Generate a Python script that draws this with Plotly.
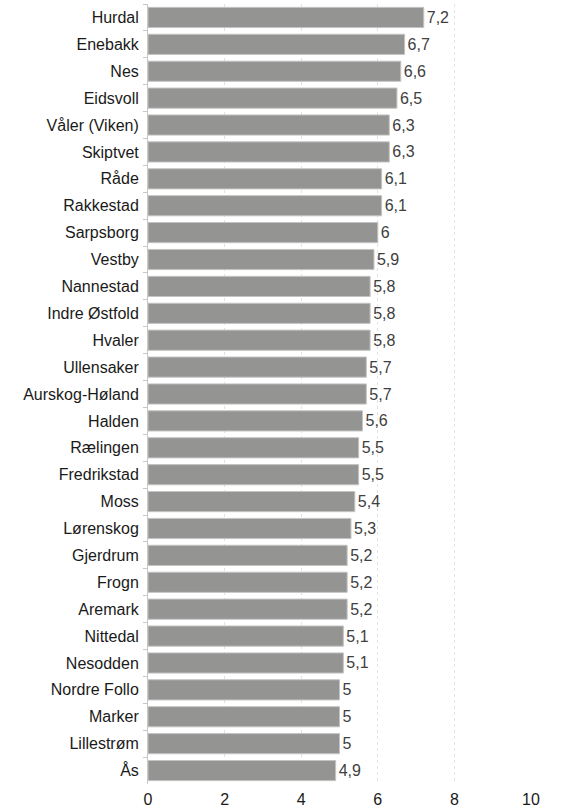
import plotly.graph_objects as go

categories = ["Hurdal", "Enebakk", "Nes", "Eidsvoll", "Våler (Viken)", "Skiptvet", "Råde",
              "Rakkestad", "Sarpsborg", "Vestby", "Nannestad", "Indre Østfold", "Hvaler",
              "Ullensaker", "Aurskog-Høland", "Halden", "Rælingen", "Fredrikstad", "Moss",
              "Lørenskog", "Gjerdrum", "Frogn", "Aremark", "Nittedal", "Nesodden",
              "Nordre Follo", "Marker", "Lillestrøm", "Ås"]
values = [7.2, 6.7, 6.6, 6.5, 6.3, 6.3, 6.1, 6.1, 6.0, 5.9, 5.8, 5.8, 5.8, 5.7, 5.7, 5.6,
          5.5, 5.5, 5.4, 5.3, 5.2, 5.2, 5.2, 5.1, 5.1, 5.0, 5.0, 5.0, 4.9]
x_ticks = [0, 2, 4, 6, 8, 10]


def fmt(v):
    s = ("%g" % v)
    return s.replace(".", ",")


labels = [fmt(v) for v in values]
FONT = "Liberation Sans"

fig = go.Figure(go.Bar(
    y=categories,
    x=values,
    orientation="h",
    marker=dict(color="#949592", line=dict(color="#c4c4c4", width=1)),
    text=labels,
    textposition="outside",
    textfont=dict(family=FONT, size=16, color="#404040"),
    cliponaxis=False,
    constraintext="none",
))

fig.update_layout(
    width=562, height=811,
    margin=dict(l=148, r=31, t=4, b=27, autoexpand=False),
    paper_bgcolor="white", plot_bgcolor="white",
    bargap=0.25,
    showlegend=False,
    font=dict(family=FONT, size=16, color="#1a1a1a"),
    xaxis=dict(
        range=[0, 10],
        tickvals=x_ticks,
        ticktext=[str(t) for t in x_ticks],
        showgrid=True, gridcolor="#e2e2e2", griddash="dot", gridwidth=1,
        zeroline=False, showline=False, ticks="",
        tickfont=dict(family=FONT, size=16, color="#1a1a1a"),
        ticklabelstandoff=4,
        fixedrange=True,
    ),
    yaxis=dict(
        autorange="reversed",
        showline=True, linecolor="#c8c8c8", linewidth=1,
        ticks="outside", ticklen=4, tickcolor="#c8c8c8", tickson="boundaries",
        showgrid=False,
        tickfont=dict(family=FONT, size=16, color="#1a1a1a"),
        ticklabelstandoff=5,
        fixedrange=True,
    ),
)

fig.write_html("out.html", config={"displayModeBar": False},
               post_script="document.body.style.margin='0';")
